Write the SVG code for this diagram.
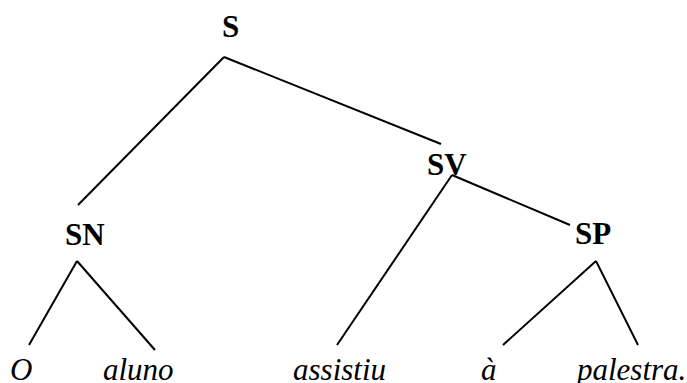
<svg xmlns="http://www.w3.org/2000/svg" width="687" height="383" viewBox="0 0 687 383">
<style>
.n{font-family:"Liberation Serif","Times New Roman",serif;font-weight:bold;font-size:31px;fill:#000}
.w{font-family:"Liberation Serif","Times New Roman",serif;font-style:italic;font-size:31px;fill:#000}
.e{stroke:#000;stroke-width:2;fill:none}
</style>
<rect width="687" height="383" fill="#fff"/>
<g id="edges">
<line class="e" x1="224" y1="57" x2="78" y2="205"/>
<line class="e" x1="224" y1="57" x2="441" y2="144"/>
<line class="e" x1="452" y1="175" x2="337" y2="345"/>
<line class="e" x1="452" y1="175" x2="570" y2="225"/>
<line class="e" x1="77" y1="261" x2="29" y2="345"/>
<line class="e" x1="77" y1="261" x2="155" y2="350"/>
<line class="e" x1="596" y1="261" x2="503" y2="345"/>
<line class="e" x1="596" y1="261" x2="638" y2="345"/>
</g>
<g id="S"><text class="n" x="222" y="37">S</text></g>
<g id="SV"><text class="n" x="427" y="175">SV</text></g>
<g id="SN"><text class="n" x="65" y="245">SN</text></g>
<g id="SP"><text class="n" x="575" y="244">SP</text></g>
<g id="w-O"><text class="w" x="10" y="380">O</text></g>
<g id="w-aluno"><text class="w" x="103" y="380">aluno</text></g>
<g id="w-assistiu"><text class="w" x="293" y="380">assistiu</text></g>
<g id="w-a"><text class="w" x="481" y="380">à</text></g>
<g id="w-palestra"><text class="w" x="577" y="380">palestra.</text></g>
</svg>
